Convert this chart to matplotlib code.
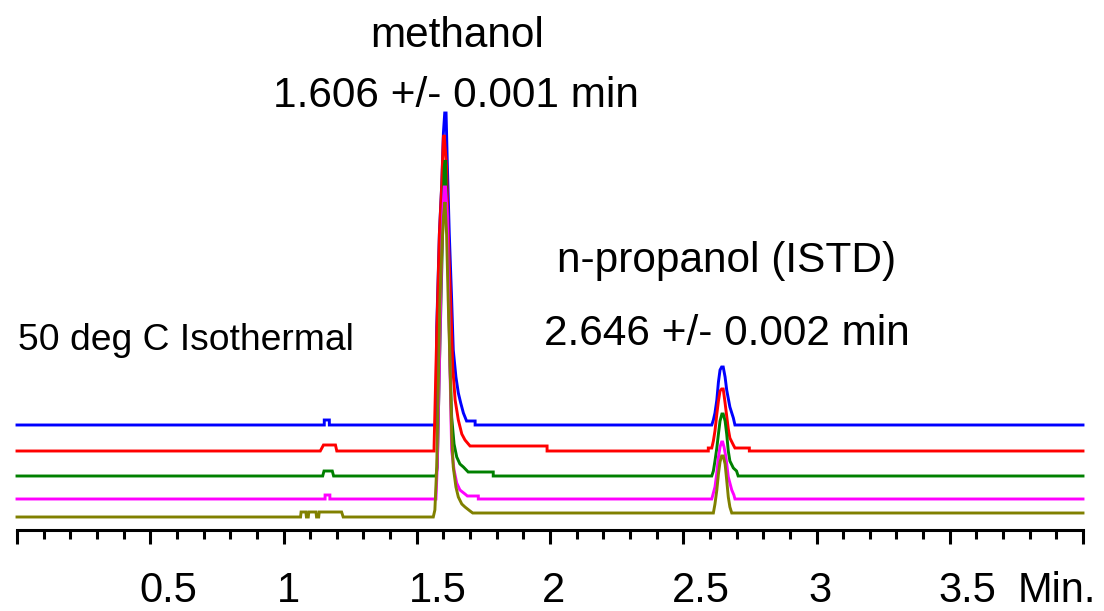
import matplotlib
matplotlib.use("Agg")
import matplotlib.pyplot as plt
import numpy as np
from matplotlib.ticker import MultipleLocator

plt.rcParams['font.family'] = ['Liberation Sans', 'DejaVu Sans']

# ---- data: retention time (min) and detector signal (relative units) ----
t_blue = [0.000, 1.153, 1.153, 1.172, 1.172, 1.572, 1.575, 1.585, 1.594, 1.600, 1.605,
          1.610, 1.615, 1.622, 1.631, 1.637, 1.647, 1.656, 1.665, 1.675, 1.687, 1.719,
          1.719, 2.607, 2.613, 2.619, 2.626, 2.632, 2.638, 2.644, 2.650, 2.657, 2.663,
          2.675, 2.688, 2.694, 4.000]
s_blue = [0, 0, 5, 5, 0, 0, 98, 192, 242, 292, 312,
          312, 258, 192, 125, 75, 48, 32, 22, 12, 4, 4,
          0, 0, 5, 12, 25, 43, 55, 58, 58, 48, 35,
          18, 7, 0, 0]

t_red = [0.000, 1.138, 1.150, 1.195, 1.200, 1.565, 1.565, 1.575, 1.585, 1.594, 1.600,
         1.603, 1.612, 1.618, 1.627, 1.635, 1.644, 1.656, 1.669, 1.681, 1.700, 1.989,
         1.989, 2.594, 2.594, 2.607, 2.613, 2.619, 2.626, 2.632, 2.638, 2.644, 2.650,
         2.657, 2.663, 2.669, 2.675, 2.688, 2.694, 2.748, 2.748, 4.000]
s_red = [0, 0, 6, 6, 0, 0, 4, 117, 217, 267, 314,
         316, 284, 217, 151, 84, 51, 31, 17, 11, 5, 5,
         0, 0, 3, 3, 10, 20, 37, 50, 60, 62, 62,
         48, 35, 22, 13, 6, 3, 3, 0, 0]

t_green = [0.000, 1.147, 1.152, 1.183, 1.188, 1.572, 1.577, 1.585, 1.594, 1.600, 1.603,
           1.607, 1.612, 1.618, 1.625, 1.631, 1.640, 1.650, 1.662, 1.675, 1.693, 1.787,
           1.787, 2.607, 2.613, 2.619, 2.626, 2.632, 2.638, 2.645, 2.650, 2.657, 2.663,
           2.669, 2.675, 2.688, 2.700, 2.706, 4.000]
s_green = [0, 0, 5, 5, 0, 0, 9, 109, 209, 276, 309,
           316, 276, 209, 109, 59, 32, 19, 12, 9, 4, 4,
           0, 0, 5, 15, 28, 42, 55, 62, 62, 55, 42,
           25, 15, 8, 5, 0, 0]

t_magenta = [0.000, 1.156, 1.156, 1.174, 1.174, 1.572, 1.577, 1.585, 1.591, 1.597, 1.603,
             1.608, 1.615, 1.620, 1.627, 1.631, 1.640, 1.650, 1.662, 1.681, 1.690, 1.731,
             1.731, 2.607, 2.613, 2.619, 2.626, 2.632, 2.638, 2.644, 2.648, 2.653, 2.660,
             2.669, 2.682, 2.690, 2.694, 4.000]
s_magenta = [0, 0, 4, 4, 0, 0, 33, 133, 216, 283, 312,
             312, 283, 199, 99, 49, 29, 16, 9, 5, 3, 3,
             0, 0, 6, 12, 26, 42, 52, 57, 57, 52, 42,
             22, 9, 4, 0, 0]

t_olive = [0.000, 1.064, 1.066, 1.084, 1.086, 1.093, 1.095, 1.122, 1.124, 1.132, 1.134,
           1.218, 1.224, 1.562, 1.568, 1.575, 1.581, 1.587, 1.594, 1.600, 1.606,
           1.612, 1.618, 1.625, 1.631, 1.637, 1.647, 1.656, 1.669, 1.681, 1.700,
           1.710, 2.613, 2.619, 2.626, 2.632, 2.638, 2.644, 2.650, 2.657, 2.663,
           2.669, 2.675, 2.682, 4.000]
s_olive = [0, 0, 5, 5, 0, 0, 5, 5, 0, 0, 5,
           5, 0, 0, 7, 50, 133, 217, 267, 300, 315,
           283, 217, 150, 83, 50, 30, 20, 13, 10, 6,
           4, 4, 13, 27, 43, 55, 61, 61, 53, 37,
           20, 10, 4, 4]

series_times = [t_blue, t_red, t_green, t_magenta, t_olive]
series_signals = [s_blue, s_red, s_green, s_magenta, s_olive]
series_offsets = [104.5, 78.5, 53.5, 30.5, 12.5]
series_colors = ['#0000ff', '#ff0000', '#008000', '#ff00ff', '#808000']

tick_label_text = ['0.5', '1', '1.5', '2', '2.5', '3', '3.5', 'Min.']
tick_label_pos = [0.567, 1.017, 1.580, 2.015, 2.567, 3.013, 3.568, 3.902]

# ---- figure ----
W, H = 1104, 611
fig = plt.figure(figsize=(W / 100, H / 100), dpi=100)
axis_y = 529.5
ax = fig.add_axes([17 / W, (H - axis_y) / H, (1083 - 17) / W, axis_y / H])
ax.set_xlim(0, 4)
ax.set_ylim(0, axis_y)

for t, s, off, c in zip(series_times, series_signals, series_offsets, series_colors):
    ax.plot(t, np.asarray(s, dtype=float) + off, color=c, lw=2.1,
            solid_joinstyle='miter', clip_on=False)

for sp in ['top', 'left', 'right']:
    ax.spines[sp].set_visible(False)
ax.spines['bottom'].set_linewidth(2.2)
ax.yaxis.set_visible(False)
ax.xaxis.set_major_locator(MultipleLocator(0.5))
ax.xaxis.set_minor_locator(MultipleLocator(0.1))
ax.tick_params(axis='x', which='major', direction='out', length=10.4, width=2.2,
               labelbottom=False)
ax.tick_params(axis='x', which='minor', direction='out', length=6.8, width=2.2)

xt = ax.get_xaxis_transform()
for lab, pos in zip(tick_label_text, tick_label_pos):
    ax.text(pos, -(602 - axis_y) / axis_y, lab, transform=xt, ha='center',
            va='baseline', fontsize=30)

# annotations (y in signal units above the axis)
ax.text(1.651, axis_y - 47, 'methanol', ha='center', va='baseline', fontsize=30.5)
ax.text(1.647, axis_y - 107, '1.606 +/- 0.001 min', ha='center', va='baseline', fontsize=30.5)
ax.text(2.664, axis_y - 272, 'n-propanol (ISTD)', ha='center', va='baseline', fontsize=30.5)
ax.text(2.664, axis_y - 345, '2.646 +/- 0.002 min', ha='center', va='baseline', fontsize=30.5)
ax.text(0.005, axis_y - 350, '50 deg C Isothermal', ha='left', va='baseline', fontsize=26.8)

fig.savefig('out.png', dpi=100)
